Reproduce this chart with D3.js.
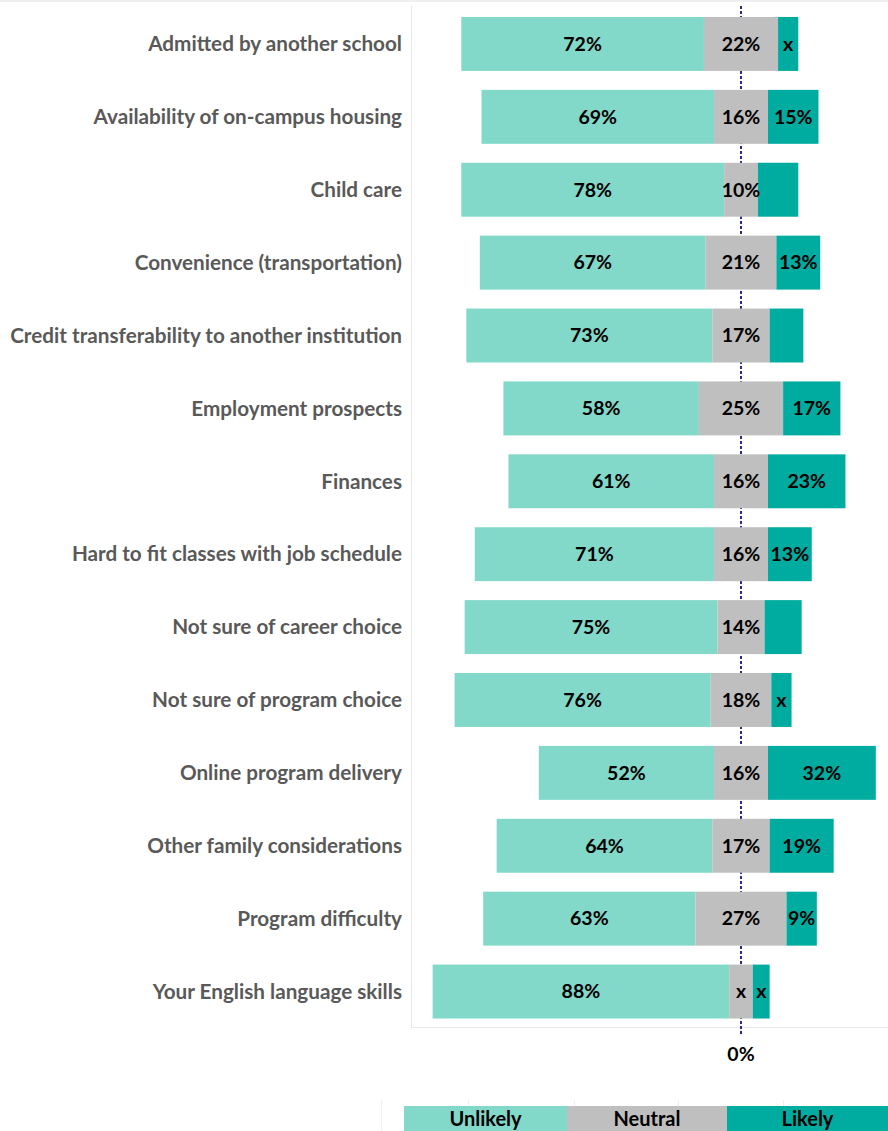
<!DOCTYPE html>
<html><head><meta charset="utf-8">
<script src="https://cdn.jsdelivr.net/npm/d3@7"></script>
<style>body{margin:0;background:#fff}svg{display:block}</style>
</head><body>
<script>
const categories = ["Admitted by another school","Availability of on-campus housing","Child care","Convenience (transportation)","Credit transferability to another institution","Employment prospects","Finances","Hard to fit classes with job schedule","Not sure of career choice","Not sure of program choice","Online program delivery","Other family considerations","Program difficulty","Your English language skills"];
const unlikely = [72,69,78,67,73,58,61,71,75,76,52,64,63,88];
const neutral  = [22,16,10,21,17,25,16,16,14,18,16,17,27,7];
const likely   = [6,15,12,13,10,17,23,13,11,6,32,19,9,5];
const unlikelyLabels = ["72%","69%","78%","67%","73%","58%","61%","71%","75%","76%","52%","64%","63%","88%"];
const neutralLabels  = ["22%","16%","10%","21%","17%","25%","16%","16%","14%","18%","16%","17%","27%","x"];
const likelyLabels   = ["x","15%","","13%","","17%","23%","13%","","x","32%","19%","9%","x"];
const seriesNames = ["Unlikely","Neutral","Likely"];
const seriesColors = ["#82d8c9","#bfbfbf","#00aba0"];
const axisTicks = [0];

const W = 888, H = 1131;
const svg = d3.select("body").append("svg").attr("width", W).attr("height", H);
const font = "Lato, 'Open Sans', sans-serif";

const zeroX = 741, pxPer = 3.37;
const x = d3.scaleLinear().domain([-100, 50]).range([zeroX - 100*pxPer, zeroX + 50*pxPer]);
const y = d3.scaleBand().domain(categories).range([7.5, 1028]).paddingInner(0.26).paddingOuter(0.13);

// frame lines
svg.append("line").attr("x1",0).attr("x2",W).attr("y1",1).attr("y2",1).attr("stroke","#f0f0f0").attr("stroke-width",2);
svg.append("line").attr("x1",411.5).attr("x2",411.5).attr("y1",6).attr("y2",1027.5).attr("stroke","#e8e8e8");
svg.append("line").attr("x1",411).attr("x2",W).attr("y1",1027.5).attr("y2",1027.5).attr("stroke","#e8e8e8");
svg.append("line").attr("x1",x(0)).attr("x2",x(0)).attr("y1",1027).attr("y2",1036).attr("stroke","#e8e8e8");

// zero dotted line
svg.append("line").attr("x1",x(0)).attr("x2",x(0)).attr("y1",6).attr("y2",1036)
  .attr("stroke","#2a2a8c").attr("stroke-width",2).attr("stroke-dasharray","3,2");

const rows = categories.map((c,i)=>{
  const n0 = -neutral[i]/2;
  return {c, segs:[
    {s:0, x0:n0-unlikely[i], x1:n0, lab:unlikelyLabels[i]},
    {s:1, x0:n0, x1:-n0, lab:neutralLabels[i]},
    {s:2, x0:-n0, x1:-n0+likely[i], lab:likelyLabels[i]}
  ]};
});

const g = svg.selectAll("g.row").data(rows).join("g").attr("class","row")
  .attr("transform", d=>`translate(0,${y(d.c)})`);
g.selectAll("rect").data(d=>d.segs).join("rect")
  .attr("x", d=>x(d.x0)).attr("width", d=>x(d.x1)-x(d.x0))
  .attr("y",0).attr("height", y.bandwidth()).attr("fill", d=>seriesColors[d.s]);
g.selectAll("text").data(d=>d.segs).join("text")
  .attr("x", d=>(x(d.x0)+x(d.x1))/2).attr("y", y.bandwidth()/2)
  .attr("dy","0.35em").attr("text-anchor","middle")
  .attr("font-family",font).attr("font-weight","bold").attr("font-size",19.5).attr("fill","#000")
  .text(d=>d.lab);

// category labels
svg.selectAll("text.cat").data(categories).join("text").attr("class","cat")
  .attr("x",402).attr("y",d=>y(d)+y.bandwidth()/2).attr("dy","0.35em")
  .attr("text-anchor","end").attr("font-family",font).attr("font-weight","bold")
  .attr("font-size",20.7).attr("fill","#595959").text(d=>d);

// axis label
svg.selectAll("text.tick").data(axisTicks).join("text").attr("class","tick")
  .attr("x",d=>x(d)).attr("y",1054).attr("dy","0.35em").attr("text-anchor","middle")
  .attr("font-family",font).attr("font-weight","bold").attr("font-size",19.5).attr("fill","#000")
  .text(d=>d+"%");

// legend faint lines
[381,468,574,678,783].forEach(lx=>{
  svg.append("line").attr("x1",lx+0.5).attr("x2",lx+0.5).attr("y1",1100).attr("y2",H).attr("stroke","#efefef");
});
// legend
const legX = d3.scaleOrdinal().domain(seriesNames).range([404,567,727]);
const legW = [163,160,161];
const lg = svg.selectAll("g.leg").data(seriesNames).join("g").attr("class","leg");
lg.append("rect").attr("x",d=>legX(d)).attr("y",1106).attr("width",(d,i)=>legW[i]).attr("height",30)
  .attr("fill",(d,i)=>seriesColors[i]);
lg.append("text").attr("x",(d,i)=>legX(d)+legW[i]/2).attr("y",1119).attr("dy","0.35em")
  .attr("text-anchor","middle").attr("font-family",font).attr("font-weight","bold").attr("font-size",20)
  .attr("fill","#000").text(d=>d);
</script>
</body></html>
